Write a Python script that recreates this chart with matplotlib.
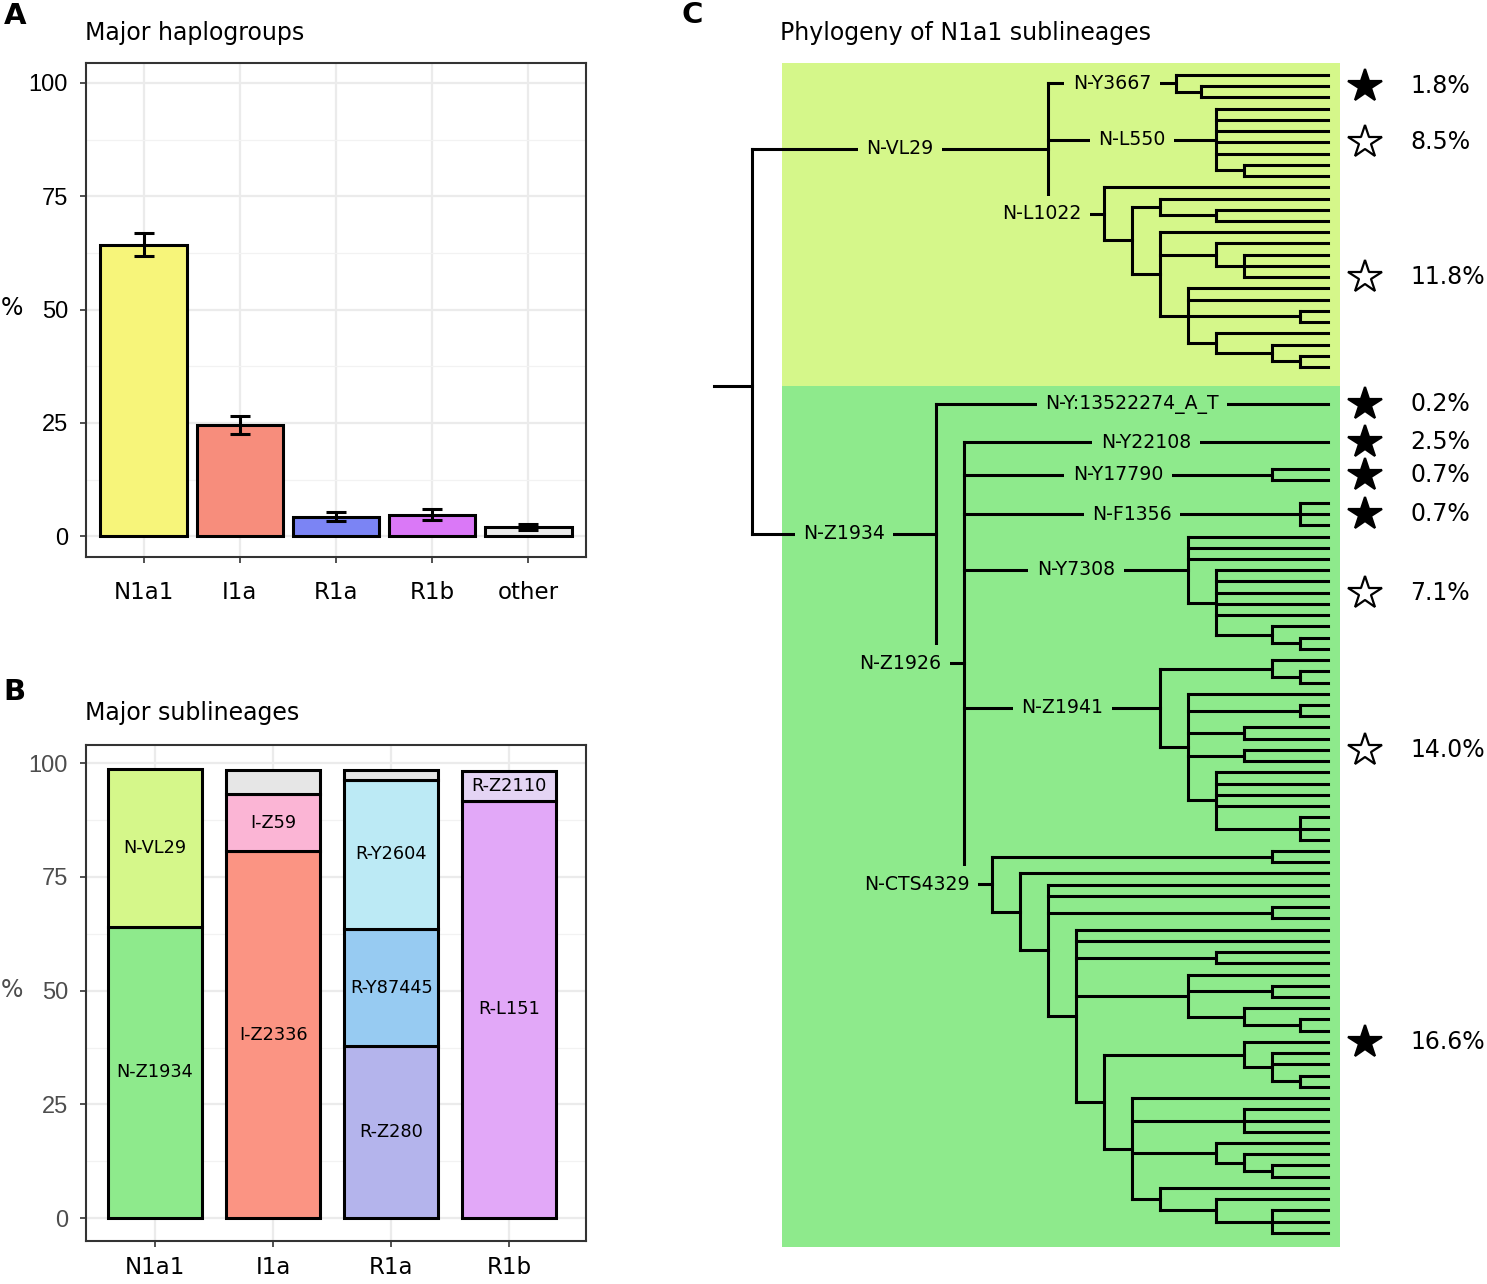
from __future__ import annotations

import matplotlib

matplotlib.use("Agg")
import matplotlib.pyplot as plt
from matplotlib.collections import LineCollection
from matplotlib.patches import Rectangle

W, H = 1487, 1284

# Panel A: major haplogroups (mean with interval)
haplogroups = ["N1a1", "I1a", "R1a", "R1b", "other"]
haplogroup_pct = [64.2, 24.5, 4.2, 4.6, 2.0]
haplogroup_low = [61.8, 22.5, 3.3, 3.5, 1.3]
haplogroup_high = [66.9, 26.5, 5.3, 6.0, 2.6]
haplogroup_colors = ["#F7F57A", "#F78D7C", "#7B84F4", "#DA78F7", "#EBEBEB"]

# Panel B: sublineages, stacked bottom to top within each group
sub_groups = ["N1a1", "I1a", "R1a", "R1b"]
sub_group_of = ["N1a1", "N1a1", "I1a", "I1a", "I1a", "R1a", "R1a", "R1a", "R1a", "R1b", "R1b"]
sub_names = ["N-Z1934", "N-VL29", "I-Z2336", "I-Z59", "", "R-Z280", "R-Y87445", "R-Y2604", "", "R-L151", "R-Z2110"]
sub_pct = [64.1, 34.7, 80.6, 12.7, 5.3, 37.8, 25.7, 32.9, 2.0, 91.8, 6.5]
sub_colors = ["#8EEA8C", "#D5F78A", "#FB9483", "#FBB5D5", "#E6E6E6",
              "#B4B4EC", "#97CBF2", "#BCEAF5", "#E6E6E6", "#E2A8F8", "#E4D4F4"]

# Panel C: phylogeny. level = distance of a node from the tips (grid steps),
# an int child means that many plain tips hanging from the node.
def clade(level, *children, name=None, rows=1.0, pad=0.0):
    return {"level": level, "children": list(children), "name": name, "rows": rows, "pad": pad}


vl29_tree = clade(
    10,
    clade(5.43, 1, clade(4.54, 2), name="N-Y3667"),
    clade(4, 5, clade(3, 2), name="N-L550"),
    clade(
        8,
        1,
        clade(
            7,
            clade(6, 1, clade(4, 2)),
            clade(6, 1, clade(4, 1, clade(3, 3)),
                  clade(5, 2, clade(1, 2), clade(4, 1, clade(2, 1, clade(1, 2))))),
        ),
        name="N-L1022",
    ),
    name="N-VL29",
)

z1934_tree = clade(
    14,
    clade(0, name="N-Y:13522274_A_T", rows=3.0),
    clade(
        13,
        clade(0, name="N-Y22108", rows=3.8),
        clade(2, 2, name="N-Y17790", pad=1.0),
        clade(1, 3, name="N-F1356"),
        clade(5, 3, clade(4, 5, clade(2, 1, clade(1, 2))), name="N-Y7308"),
        clade(6, clade(2, 1, clade(1, 2)),
              clade(5, 1, clade(1, 2), clade(3, 2), clade(3, 2), clade(4, 4, clade(1, 3))),
              name="N-Z1941"),
        clade(12, clade(2, 2),
              clade(11, 1,
                    clade(10, 2, clade(2, 2),
                          clade(9, 2, clade(4, 2),
                                clade(5, 1, clade(2, 2), clade(3, 1, clade(1, 2))),
                                clade(8, clade(3, 1, clade(2, 2, clade(1, 2))),
                                      clade(7, 1, clade(3, 3),
                                            clade(4, 1, clade(3, 1, clade(2, 2))),
                                            clade(6, 1, clade(4, 1, clade(2, 3)))))))),
              name="N-CTS4329"),
        name="N-Z1926",
    ),
    name="N-Z1934",
)

root_level = 20.57
root_stub_level = 21.93

star_clades = ["N-Y3667", "N-L550", "N-L1022", "N-Y:13522274_A_T", "N-Y22108",
               "N-Y17790", "N-F1356", "N-Y7308", "N-Z1941", "N-CTS4329"]
star_pct = [1.8, 8.5, 11.8, 0.2, 2.5, 0.7, 0.7, 7.1, 14.0, 16.6]
star_filled = [True, False, False, True, True, True, True, False, False, True]

LIME = "#D5F78A"
GREEN = "#8EEA8C"
GRID = "#EBEBEB"
BORDER = "#333333"


def fig_box(left, top, right, bottom):
    return [left / W, 1 - bottom / H, (right - left) / W, (bottom - top) / H]


def _style_panel(ax, tick_color, xpad):
    ax.set_axisbelow(True)
    ax.grid(True, which="major", color=GRID, linewidth=1.6)
    ax.set_yticks([0, 25, 50, 75, 100])
    ax.set_yticks([12.5, 37.5, 62.5, 87.5], minor=True)
    ax.grid(True, which="minor", axis="y", color="#F2F2F2", linewidth=0.9)
    ax.tick_params(which="minor", length=0)
    ax.tick_params(axis="both", which="major", length=4, width=1.2, color=BORDER)
    ax.tick_params(axis="y", pad=9, labelsize=17, labelcolor=tick_color)
    ax.tick_params(axis="x", pad=xpad, labelsize=16.5)
    for label in ax.get_yticklabels():
        label.set_fontfamily("Liberation Sans")
    for spine in ax.spines.values():
        spine.set_color(BORDER)
        spine.set_linewidth(1.5)


def plot_haplogroups(ax):
    x = list(range(1, len(haplogroups) + 1))
    ax.bar(x, haplogroup_pct, width=0.9, color=haplogroup_colors,
           edgecolor="black", linewidth=2.2, zorder=2)
    yerr = [[p - lo for p, lo in zip(haplogroup_pct, haplogroup_low)],
            [hi - p for p, hi in zip(haplogroup_pct, haplogroup_high)]]
    ax.errorbar(x, haplogroup_pct, yerr=yerr, fmt="none", ecolor="black",
                elinewidth=2.2, capsize=7, capthick=2.2, zorder=3)
    ax.set_xticks(x)
    ax.set_xticklabels(haplogroups)
    ax.set_xlim(0.4, len(haplogroups) + 0.6)
    ax.set_ylim(-4.6, 104.4)
    _style_panel(ax, "black", 13)


def plot_sublineages(ax):
    bottoms = {g: 0.0 for g in sub_groups}
    for group, name, value, color in zip(sub_group_of, sub_names, sub_pct, sub_colors):
        xpos = sub_groups.index(group) + 1
        base = bottoms[group]
        ax.bar(xpos, value, bottom=base, width=0.8, color=color,
               edgecolor="black", linewidth=2.2, zorder=2)
        if name:
            ax.text(xpos, base + value / 2, name, ha="center", va="center",
                    fontsize=12.8, zorder=3)
        bottoms[group] = base + value
    ax.set_xticks(range(1, len(sub_groups) + 1))
    ax.set_xticklabels(sub_groups)
    ax.set_xlim(0.415, 4.65)
    ax.set_ylim(-5, 104)
    _style_panel(ax, "#4D4D4D", 7)


def _layout(node, cursor, segments):
    """Assign rows to tips (top to bottom), set node y as midpoint of its children."""
    x = -node["level"]
    if not node["children"]:
        y = cursor + (node["rows"] - 1) / 2
        node.update(y=y, lo=y, hi=y)
        return cursor + node["rows"] + node["pad"]
    kids = []
    for child in node["children"]:
        if isinstance(child, int):
            for _ in range(child):
                kids.append((0.0, cursor, cursor, cursor))
                cursor += 1
        else:
            cursor = _layout(child, cursor, segments)
            kids.append((-child["level"], child["y"], child["lo"], child["hi"]))
    ys = [k[1] for k in kids]
    for cx, cy, _, _ in kids:
        segments.append([(x, cy), (cx, cy)])
    segments.append([(x, min(ys)), (x, max(ys))])
    node.update(y=(min(ys) + max(ys)) / 2, lo=kids[0][2], hi=kids[-1][3])
    return cursor + node["pad"]


def _named(node, parent_x, bg, out):
    x = -node["level"]
    if node["name"]:
        out.append((node, parent_x, bg))
    for child in node["children"]:
        if isinstance(child, dict):
            _named(child, x, bg, out)


def plot_tree(ax):
    segments = []
    cursor = _layout(vl29_tree, 0.0, segments)
    _layout(z1934_tree, cursor + 1.3, segments)

    root_x = -root_level
    boundary = (vl29_tree["hi"] + z1934_tree["lo"]) / 2
    for sub in (vl29_tree, z1934_tree):
        segments.append([(root_x, sub["y"]), (-sub["level"], sub["y"])])
    segments.append([(root_x, vl29_tree["y"]), (root_x, z1934_tree["y"])])
    segments.append([(-root_stub_level, boundary), (root_x, boundary)])

    bg_left, bg_right = -19.5, 0.43
    top = vl29_tree["lo"] - 1.1
    bottom = z1934_tree["hi"] + 1.3
    ax.add_patch(Rectangle((bg_left, top), bg_right - bg_left, boundary - top,
                           facecolor=LIME, edgecolor="none", zorder=0))
    ax.add_patch(Rectangle((bg_left, boundary), bg_right - bg_left, bottom - boundary,
                           facecolor=GREEN, edgecolor="none", zorder=0))

    ax.add_collection(LineCollection(segments, colors="black", linewidths=2.2,
                                     capstyle="projecting", zorder=2))

    named = []
    _named(vl29_tree, root_x, LIME, named)
    _named(z1934_tree, root_x, GREEN, named)
    lookup = {}
    for node, parent_x, bg in named:
        x = -node["level"]
        lookup[node["name"]] = node
        box = {"boxstyle": "square,pad=0.45", "facecolor": bg, "edgecolor": "none"}
        if x - parent_x < 3:
            ax.text(x - 0.8, node["y"], node["name"], ha="right", va="center",
                    fontsize=13.6, bbox=box, zorder=3)
        else:
            ax.text((x + parent_x) / 2, node["y"], node["name"], ha="center",
                    va="center", fontsize=13.6, bbox=box, zorder=3)

    for name, pct, filled in zip(star_clades, star_pct, star_filled):
        node = lookup[name]
        y = (node["lo"] + node["hi"]) / 2
        ax.plot(1.32, y, marker="*", markersize=25, markeredgewidth=1.6,
                markeredgecolor="black", markerfacecolor="black" if filled else "white",
                zorder=4, clip_on=False)
        ax.text(2.93, y, f"{pct:.1f}%", ha="left", va="center", fontsize=17)

    # pixel frame: tips at x=1328 px, 28 px per level; rows start at 75 px, 11.23 px apart
    ax.set_xlim((690 - 1328) / 28, (W - 1328) / 28)
    ax.set_ylim((H - 75) / 11.23, -75 / 11.23)
    ax.axis("off")


fig = plt.figure(figsize=(W / 100, H / 100), dpi=100)

ax_a = fig.add_axes(fig_box(86, 63, 586, 557))
plot_haplogroups(ax_a)

ax_b = fig.add_axes(fig_box(86, 745, 586, 1241))
plot_sublineages(ax_b)

ax_c = fig.add_axes(fig_box(690, 0, W, H))
plot_tree(ax_c)

fig.text(15 / W, 1 - 16 / H, "A", fontsize=21, fontweight="bold", ha="center", va="center")
fig.text(14 / W, 1 - 692 / H, "B", fontsize=21, fontweight="bold", ha="center", va="center")
fig.text(692 / W, 1 - 15 / H, "C", fontsize=21, fontweight="bold", ha="center", va="center")
fig.text(85 / W, 1 - 33 / H, "Major haplogroups", fontsize=17, ha="left", va="center")
fig.text(85 / W, 1 - 713 / H, "Major sublineages", fontsize=17, ha="left", va="center")
fig.text(780 / W, 1 - 33 / H, "Phylogeny of N1a1 sublineages", fontsize=17, ha="left", va="center")
fig.text(12 / W, 1 - 308 / H, "%", fontsize=17, ha="center", va="center")
fig.text(12 / W, 1 - 990 / H, "%", fontsize=17, ha="center", va="center", color="#4D4D4D")

fig.savefig("out.png", dpi=100)
